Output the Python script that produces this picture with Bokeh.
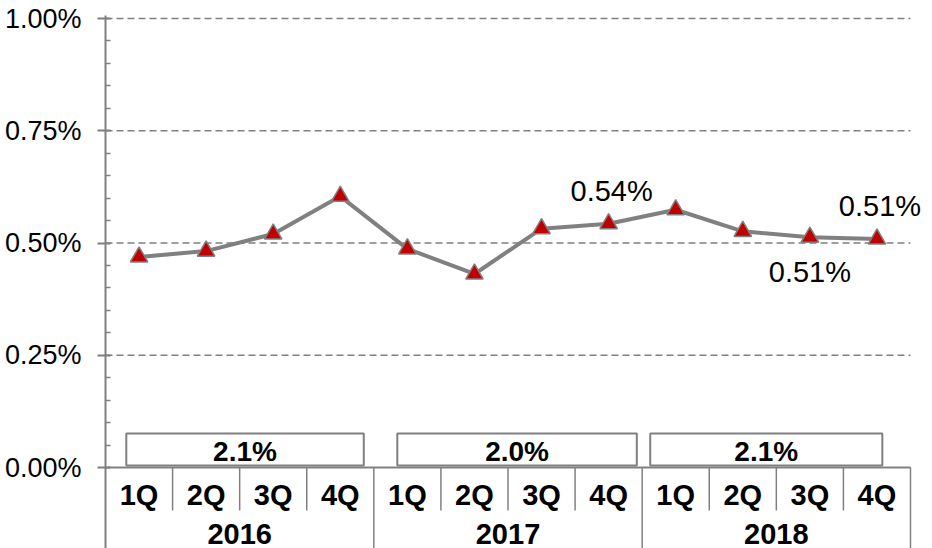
from bokeh.plotting import figure
from bokeh.models import Range1d, FixedTicker, PrintfTickFormatter, ColumnDataSource
from bokeh.core.properties import value
from bokeh.embed import file_html
from bokeh.resources import INLINE

# ---------------- data ----------------
years = ["2016", "2017", "2018"]
quarters = ["1Q", "2Q", "3Q", "4Q"]
rates = [0.469, 0.482, 0.520, 0.604, 0.487, 0.431, 0.532, 0.543, 0.574, 0.526, 0.513, 0.509]
annual = [2.1, 2.0, 2.1]
labels_above = [7, 11]
labels_below = [10]
y_ticks = [0.0, 0.25, 0.50, 0.75, 1.00]

# ---------------- layout constants ----------------
GRAY = "#808080"
RED = "#C00000"
FONT = value("Liberation Sans")
PX_Q = 805 / 12.0          # pixels per quarter
PX_Y = 449.0               # pixels per 1.00 %
n = len(years) * len(quarters)

W, H = 932, 548
LEFT, TOP = 105, 15
x_end = (W - LEFT) / PX_Q
y_top = (467 - TOP) / PX_Y
y_bot = -(H - 467) / PX_Y

p = figure(width=W, height=H, output_backend="svg", toolbar_location=None,
           x_range=Range1d(0, x_end), y_range=Range1d(y_bot, y_top),
           x_axis_type=None, min_border_left=LEFT, min_border_right=0,
           min_border_top=TOP, min_border_bottom=0)
p.outline_line_color = None
p.xgrid.visible = False
p.ygrid.visible = False
p.background_fill_color = "white"

ax = p.yaxis[0]
minor = [round(0.05 * k, 2) for k in range(1, 20) if k % 5 != 0]
ax.ticker = FixedTicker(ticks=y_ticks, minor_ticks=minor)
ax.formatter = PrintfTickFormatter(format="%.2f%%")
ax.axis_line_color = GRAY
ax.axis_line_width = 2
ax.major_tick_line_color = GRAY
ax.major_tick_line_width = 2
ax.major_tick_out = 8
ax.major_tick_in = 5
ax.minor_tick_line_color = GRAY
ax.minor_tick_line_width = 1.5
ax.minor_tick_in = 5
ax.minor_tick_out = 0
ax.major_label_text_font = "Liberation Sans"
ax.major_label_text_font_size = "27px"
ax.major_label_text_color = "black"
ax.major_label_standoff = 16

# gridlines (dashed) and x axis line
grid_y = [t for t in y_ticks if t > 0]
p.segment(x0=[0] * len(grid_y), x1=[n] * len(grid_y), y0=grid_y, y1=grid_y,
          line_color=GRAY, line_width=1.5, line_dash="7 4")
p.segment(x0=[0], x1=[n], y0=[0], y1=[0], line_color=GRAY, line_width=2)

# category separators
q_sep = [i for i in range(1, n) if i % 4 != 0]
q_sep_bottom = -(510 - 467) / PX_Y
p.segment(x0=q_sep, x1=q_sep, y0=[0] * len(q_sep), y1=[q_sep_bottom] * len(q_sep),
          line_color=GRAY, line_width=1.5)
y_sep = [4 * (g + 1) for g in range(len(years))]
p.segment(x0=y_sep, x1=y_sep, y0=[0] * len(y_sep), y1=[y_bot] * len(y_sep),
          line_color=GRAY, line_width=1.5)

# category labels
qx = [i + 0.5 for i in range(n)]
qlab = [quarters[i % 4] for i in range(n)]
p.text(x=qx, y=[-(494 - 467) / PX_Y] * n, text=qlab, text_font=FONT,
       text_font_size="29px", text_font_style="bold", text_color="black",
       text_align="center", text_baseline="middle")
yx = [4 * g + 2 for g in range(len(years))]
p.text(x=yx, y=[-(533 - 467) / PX_Y] * len(years), text=years, text_font=FONT,
       text_font_size="29px", text_font_style="bold", text_color="black",
       text_align="center", text_baseline="middle")

# annual boxes
box_l_in = [0.31, 0.35, 0.12]
box_r_in = [3.85, 3.92, 3.58]
bl = [4 * g + box_l_in[g] for g in range(len(years))]
br = [4 * g + box_r_in[g] for g in range(len(years))]
bb = (467 - 465) / PX_Y
bt = (467 - 433) / PX_Y
p.quad(left=bl, right=br, bottom=[bb] * 3, top=[bt] * 3,
       fill_color="white", line_color=GRAY, line_width=2)
p.text(x=[(a + b) / 2 for a, b in zip(bl, br)], y=[(467 - 451) / PX_Y] * 3,
       text=[f"{v:.1f}%" for v in annual], text_font=FONT, text_font_size="28px",
       text_font_style="bold", text_color="black", text_align="center",
       text_baseline="middle")

# series
src = ColumnDataSource(dict(x=qx, y=rates))
p.line("x", "y", source=src, line_color=GRAY, line_width=4)
p.scatter("x", "y", source=src, marker="triangle", size=17.5, fill_color=RED,
          line_color=GRAY, line_width=1.5)

# data labels
p.text(x=[qx[i] for i in labels_above], y=[rates[i] for i in labels_above],
       text=[f"{rates[i]:.2f}%" for i in labels_above], text_font=FONT,
       text_font_size="29px", text_color="black", text_align="center",
       text_baseline="middle", x_offset=3, y_offset=-33)
p.text(x=[qx[i] for i in labels_below], y=[rates[i] for i in labels_below],
       text=[f"{rates[i]:.2f}%" for i in labels_below], text_font=FONT,
       text_font_size="29px", text_color="black", text_align="center",
       text_baseline="middle", y_offset=35)

open("out.html", "w").write(file_html(p, INLINE))
